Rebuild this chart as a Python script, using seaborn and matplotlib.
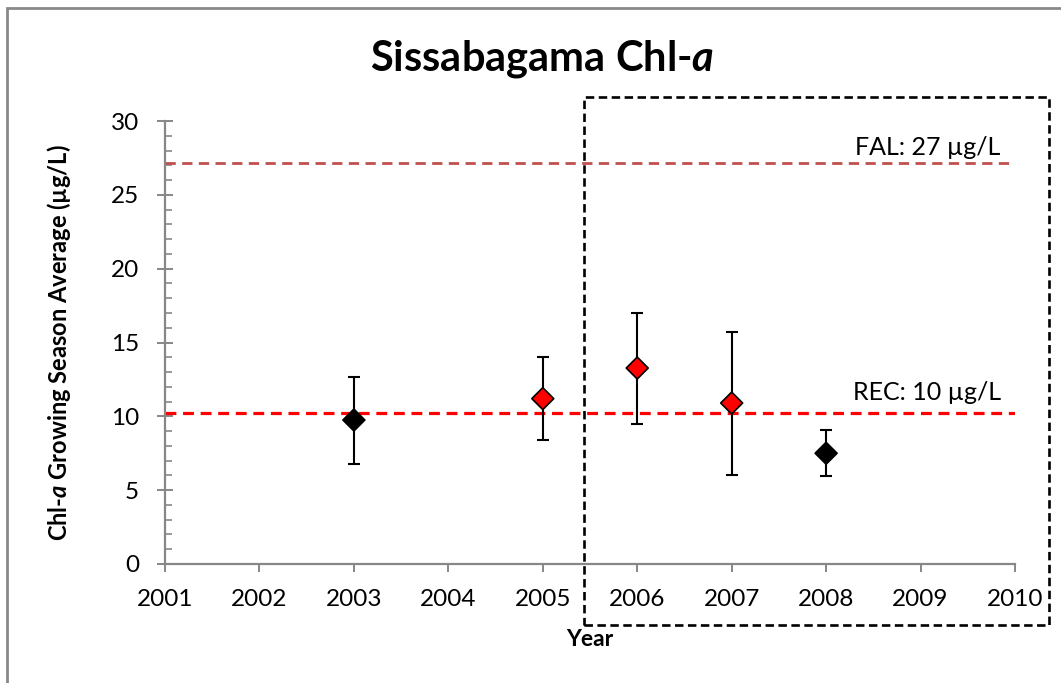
import matplotlib
matplotlib.use("Agg")
import matplotlib.pyplot as plt
import matplotlib.patches as mpatches
from matplotlib.ticker import MultipleLocator
import seaborn as sns
import pandas as pd

# ---- data ----
years = [2003, 2005, 2006, 2007, 2008]
chla_mean = [9.75, 11.2, 13.27, 10.9, 7.5]
err_upper = [12.66, 14.0, 17.0, 15.7, 9.07]
err_lower = [6.77, 8.4, 9.48, 6.0, 5.96]
point_group = ["black", "red", "red", "red", "black"]
fal_value = 27.15
rec_value = 10.2
fal_label = "FAL: 27 µg/L"
rec_label = "REC: 10 µg/L"
x_ticks = list(range(2001, 2011))
y_ticks = [0, 5, 10, 15, 20, 25, 30]

df = pd.DataFrame({"Year": years, "Chla": chla_mean, "group": point_group})

sns.set_theme(style="white")
plt.rcParams["font.family"] = ["Lato", "DejaVu Sans"]
plt.rcParams["mathtext.fontset"] = "custom"
plt.rcParams["mathtext.it"] = "Lato:italic:bold"
plt.rcParams["mathtext.rm"] = "Lato:bold"
plt.rcParams["text.color"] = "black"
plt.rcParams["axes.labelcolor"] = "black"
plt.rcParams["xtick.labelcolor"] = "black"
plt.rcParams["ytick.labelcolor"] = "black"

W, H = 1061, 683
fig = plt.figure(figsize=(W / 100, H / 100), dpi=100)
fig.patch.set_facecolor("white")
ax = fig.add_axes([165 / W, 1 - 564 / H, (1015 - 165) / W, (564 - 121) / H])

gray = "#878787"

# threshold lines
ax.axhline(fal_value, color="#C0504D", lw=2.0, ls=(0, (3.7, 2.3)), zorder=1)
ax.axhline(rec_value, color="#FF0000", lw=2.3, ls=(0, (3.4, 2.1)), zorder=1)
ax.text(2009.85, 27.7, fal_label, ha="right", va="baseline", fontsize=18)
ax.text(2009.85, 11.1, rec_label, ha="right", va="baseline", fontsize=18)

# error bars
yerr = [[m - lo for m, lo in zip(chla_mean, err_lower)],
        [hi - m for m, hi in zip(chla_mean, err_upper)]]
ax.errorbar(years, chla_mean, yerr=yerr, fmt="none", ecolor="black",
            elinewidth=1.5, capsize=4.6, capthick=1.5, zorder=2)

sns.scatterplot(data=df, x="Year", y="Chla", hue="group",
                palette={"black": "black", "red": "#FF0000"},
                marker="D", s=125, edgecolor="black", linewidth=1.2,
                legend=False, ax=ax, zorder=3)

ax.set_xlim(2001, 2010)
ax.set_ylim(0, 30)
ax.set_xticks(x_ticks)
ax.set_xticklabels([str(x) for x in x_ticks])
ax.set_yticks(y_ticks)
ax.yaxis.set_minor_locator(MultipleLocator(1))

for s in ["top", "right"]:
    ax.spines[s].set_visible(False)
for s in ["left", "bottom"]:
    ax.spines[s].set_color(gray)
    ax.spines[s].set_linewidth(1.6)

ax.tick_params(axis="y", which="major", direction="inout", length=11.5, width=1.4,
               color=gray, labelsize=17.5, pad=13, left=True)
ax.tick_params(axis="y", which="minor", direction="in", length=5, width=1.2,
               color=gray, left=True)
ax.tick_params(axis="x", which="major", direction="out", length=6, width=1.4,
               color=gray, labelsize=17.5, pad=12, bottom=True)

ax.set_xlabel("Year", fontsize=16.5, fontweight="bold")
ax.xaxis.set_label_coords(0.5, -(629 - 564) / 443)
ax.set_ylabel(r"Chl-$\mathit{a}$ Growing Season Average (µg/L)", fontsize=17,
              fontweight="bold")
ax.yaxis.set_label_coords(-(165 - 73) / 850, 0.5)

fig.text(542 / W, 1 - 70 / H, r"Sissabagama Chl-$\mathit{a}$", ha="center",
         va="baseline", fontsize=30, fontweight="bold")

# dashed highlight box (figure coordinates)
box = mpatches.Rectangle((584 / W, 1 - 625 / H), (1049 - 584) / W, (625 - 97) / H,
                         transform=fig.transFigure, fill=False, edgecolor="black",
                         lw=1.9, ls=(0, (3.2, 1.7)), zorder=5)
fig.patches.append(box)

# outer chart border
border = mpatches.Rectangle((7 / W, -0.05), 1.2, 1 - 8 / H + 0.05,
                            transform=fig.transFigure, fill=False,
                            edgecolor="#898989", lw=2.0)
fig.patches.append(border)

fig.savefig("out.png", dpi=100, facecolor="white")
